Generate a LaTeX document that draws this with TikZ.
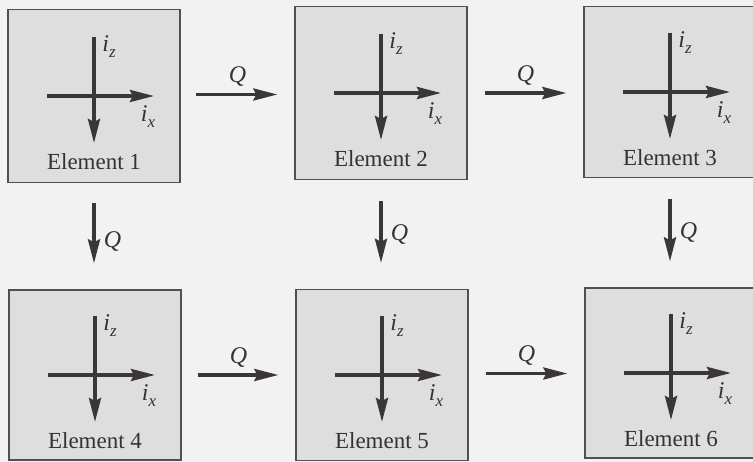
\documentclass[tikz,border=0pt]{standalone}
\usepackage{fontspec}
\setmainfont{Liberation Serif}
\usetikzlibrary{arrows.meta}
\definecolor{bg}{RGB}{242,242,242}
\definecolor{boxfill}{RGB}{222,222,222}
\definecolor{boxline}{RGB}{80,80,80}
\definecolor{ink}{RGB}{58,54,58}
\newcommand{\ilab}[1]{{\fontsize{24}{24}\selectfont\itshape i}\raisebox{-6pt}{\fontsize{17}{17}\selectfont\itshape #1}}
\newcommand{\qlab}{{\fontsize{24}{24}\selectfont\itshape Q}}
\begin{document}
\begin{tikzpicture}[x=1pt,y=-1pt,
  elem/.style={draw=boxline, line width=1.3pt, fill=boxfill, minimum width=172pt, minimum height=172pt, inner sep=0pt},
  tipstyle/.style={-{Stealth[length=24pt,width=12pt,inset=3pt]}},
  axisline/.style={draw=ink, line width=3.5pt, tipstyle},
  flow/.style={draw=ink, line width=3.5pt, tipstyle},
  elabel/.style={font=\fontsize{23}{23}\selectfont, text=black!80, inner sep=0pt},
  qlabel/.style={text=black!80, inner sep=0pt}]
\useasboundingbox[fill=bg] (0,0) rectangle (753,462);
% boxes
\node[elem, minimum height=173pt] (b1) at (94,96) {};
\node[elem, minimum height=173pt] (b2) at (381,93) {};
\node[elem, minimum height=171pt] (b3) at (670,92) {};
\node[elem, minimum height=170pt] (b4) at (95,375) {};
\node[elem, minimum height=171pt] (b5) at (382,375) {};
\node[elem, minimum height=170pt] (b6) at (671,373) {};
% axes and labels
\foreach \b/\n in {b1/1,b2/2,b3/3,b4/4,b5/5,b6/6}{
  \draw[axisline] ([xshift=-47pt]\b.center) -- ([xshift=60pt]\b.center);
  \draw[axisline] ([yshift=59pt]\b.center) -- ([yshift=-47pt]\b.center);
  \node[qlabel] (\b z) at ([xshift=15pt,yshift=49pt]\b.center) {\ilab{z}};
  \node[qlabel] (\b x) at ([xshift=54pt,yshift=-21pt]\b.center) {\ilab{x}};
  \node[elabel] (\b e) at ([yshift=-66pt]\b.center) {Element \n};
}
% horizontal flows
\draw[flow, shorten <=15pt, shorten >=17pt] ([yshift=1.5pt]b1.east) -- ([yshift=1.5pt]b1.east -| b2.west)
  node[midway, above=6pt, qlabel] {\qlab};
\draw[flow, shorten <=17pt, shorten >=17pt] (b2.east) -- (b2.east -| b3.west)
  node[midway, above=6pt, qlabel] {\qlab};
\draw[flow, shorten <=16pt, shorten >=17pt] (b4.east) -- (b4.east -| b5.west)
  node[midway, above=6pt, qlabel] {\qlab};
\draw[flow, shorten <=17pt, shorten >=17pt] ([yshift=1.5pt]b5.east) -- ([yshift=1.5pt]b5.east -| b6.west)
  node[midway, above=6pt, qlabel] {\qlab};
% vertical flows
\draw[flow, shorten <=20pt, shorten >=26pt] (b1.south) -- (b1.south |- b4.north)
  node[pos=0.55, right=8pt, qlabel] {\qlab};
\draw[flow, shorten <=21pt, shorten >=26pt] (b2.south) -- (b2.south |- b5.north)
  node[pos=0.5, right=8pt, qlabel] {\qlab};
\draw[flow, shorten <=21pt, shorten >=26pt] (b3.south) -- (b3.south |- b6.north)
  node[pos=0.5, right=8pt, qlabel] {\qlab};
\end{tikzpicture}
\end{document}
